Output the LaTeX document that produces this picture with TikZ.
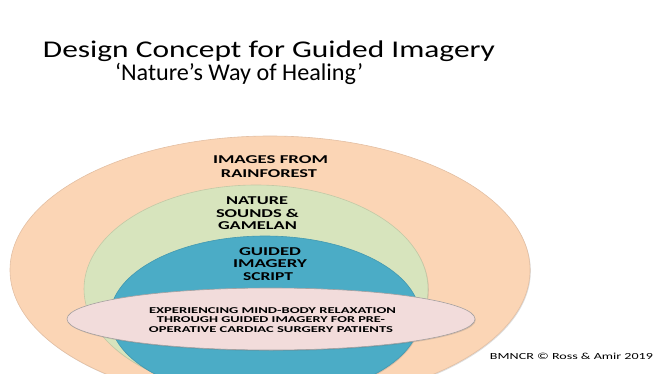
\documentclass[tikz,border=0pt]{standalone}
\usepackage{fontspec}
\usepackage{graphicx}
\setmainfont{Carlito}
\usetikzlibrary{shapes.geometric,shadows}
\definecolor{orangefill}{HTML}{FBD5B5}
\definecolor{orangeline}{HTML}{E3BFA3}
\definecolor{greenfill}{HTML}{D7E4BD}
\definecolor{greenline}{HTML}{C2C9A6}
\definecolor{bluefill}{HTML}{4BACC6}
\definecolor{blueline}{HTML}{4399B0}
\definecolor{pinkfill}{HTML}{F2DCDB}
\definecolor{pinkline}{HTML}{A5A0A0}
\newcommand{\fitline}[2]{\resizebox{#1}{\height}{#2}}
\begin{document}
\begin{tikzpicture}[x=1pt,y=-1pt,
  oval/.style={ellipse, inner sep=0pt, line width=0.6pt,
    drop shadow={shadow xshift=0.8pt, shadow yshift=-1pt, opacity=0.22, fill=black!60}},
  titletext/.style={inner sep=0pt, anchor=base, font=\fontsize{24}{24}\selectfont},
  ringtext/.style={inner sep=0pt, anchor=base, font=\fontsize{12}{12}\selectfont\bfseries},
  coretext/.style={inner sep=0pt, anchor=base, font=\fontsize{9}{9}\selectfont\bfseries},
  foottext/.style={inner sep=0pt, anchor=base, font=\fontsize{9.3}{10}\selectfont}]
\useasboundingbox (0,0) rectangle (668,374);
\clip (0,0) rectangle (668,374);
% title
\node[titletext] (title1) at (269,58) {\fitline{452pt}{Design Concept for Guided Imagery}};
\node[titletext] (title2) at (239,81) {\fitline{248pt}{‘Nature’s Way of Healing’}};
% nested ellipses
\node[oval, fill=orangefill, draw=orangeline, minimum width=520pt, minimum height=268pt] (outer) at (270,270) {};
\node[oval, fill=greenfill, draw=greenline, minimum width=344pt, minimum height=208pt] (middle) at (256,289) {};
\node[oval, fill=bluefill, draw=blueline, minimum width=310pt, minimum height=162pt] (inner) at (265,317) {};
\node[oval, fill=pinkfill, draw=pinkline, minimum width=408pt, minimum height=62pt] (core) at (271,319) {};
% ring labels
\node[ringtext] (imgA) at (270.5,164) {\fitline{115pt}{IMAGES FROM}};
\node[ringtext] (imgB) at (269,177) {\fitline{96pt}{RAINFOREST}};
\node[ringtext] (natA) at (257,204) {\fitline{62pt}{NATURE}};
\node[ringtext] (natB) at (257.5,217) {\fitline{83pt}{SOUNDS \&}};
\node[ringtext] (natC) at (257.5,229) {\fitline{79pt}{GAMELAN}};
\node[ringtext] (gdA) at (270,255) {\fitline{62pt}{GUIDED}};
\node[ringtext] (gdB) at (270,267) {\fitline{74pt}{IMAGERY}};
\node[ringtext] (gdC) at (268,280) {\fitline{50pt}{SCRIPT}};
% core label
\node[coretext] (expA) at (272.5,313) {\fitline{247pt}{EXPERIENCING MIND-BODY RELAXATION}};
\node[coretext] (expB) at (271,322.5) {\fitline{228pt}{THROUGH GUIDED IMAGERY FOR PRE-}};
\node[coretext] (expC) at (271,332) {\fitline{244pt}{OPERATIVE CARDIAC SURGERY PATIENTS}};
% footer
\node[foottext] (foot) at (571.5,359) {\fitline{163pt}{BMNCR © Ross \& Amir 2019}};
\end{tikzpicture}
\end{document}
